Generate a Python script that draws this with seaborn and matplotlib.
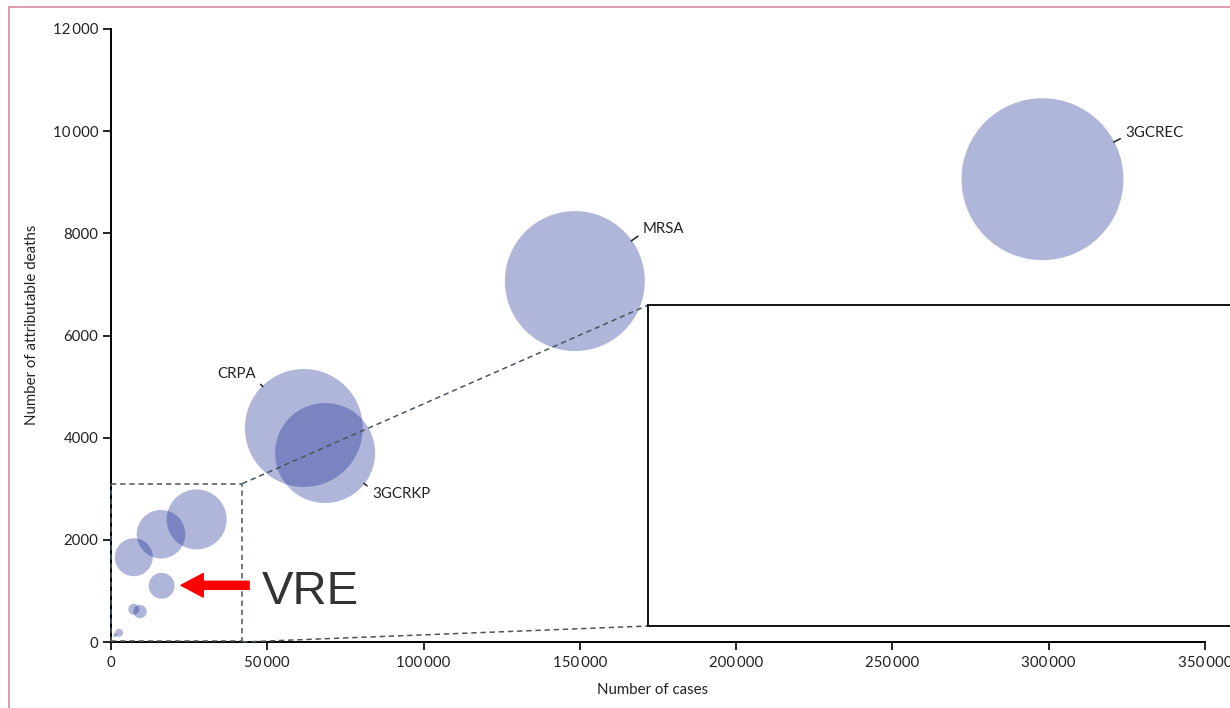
import numpy as np
import pandas as pd
import matplotlib
matplotlib.use("Agg")
import matplotlib.pyplot as plt
import seaborn as sns
from matplotlib.patches import Rectangle
from matplotlib.lines import Line2D
from matplotlib.ticker import FuncFormatter, MultipleLocator

# ---------------- data ----------------
pathogens = ["3GCREC", "MRSA", "CRPA", "3GCRKP", "Other A", "Other B", "Other C",
             "VRE", "Other D", "Other E", "Other F", "Other G"]
cases = [298000, 148400, 61700, 68500, 27400, 16000, 7300, 16200, 7300, 9300, 2600, 1300]
deaths = [9060, 7065, 4190, 3700, 2400, 2110, 1660, 1100, 640, 595, 180, 135]
dalys = [249000, 186000, 132000, 95000, 34200, 22400, 13700, 6400, 1150, 1700, 600, 150]
labelled = ["3GCREC", "MRSA", "CRPA", "3GCRKP"]
x_ticks = [0, 50000, 100000, 150000, 200000, 250000, 300000, 350000]
y_ticks = [0, 2000, 4000, 6000, 8000, 10000, 12000]
zoom_x = 42000
zoom_y = 3100

df = pd.DataFrame({"pathogen": pathogens, "cases": cases, "deaths": deaths, "dalys": dalys})

# ---------------- style ----------------
sns.set_theme(style="ticks")
plt.rcParams["font.family"] = ["Lato", "DejaVu Sans"]

SMAX = 13600.0
VMAX = max(dalys)
BUBBLE = (0 / 255, 22 / 255, 137 / 255)

fig = plt.figure(figsize=(12.3, 7.08), dpi=100)
ax = fig.add_axes([111 / 1230, 1 - 642 / 708, (1205 - 111) / 1230, (642 - 29) / 708])

sns.scatterplot(data=df, x="cases", y="deaths", size="dalys", sizes=(0, SMAX),
                size_norm=(0, VMAX), color=BUBBLE, alpha=0.31, linewidth=0,
                legend=False, ax=ax, zorder=2)

ax.set_xlim(0, 350000)
ax.set_ylim(0, 12000)
ax.set_xticks(x_ticks)
ax.set_yticks(y_ticks)


def fmt(v, pos=None):
    v = int(round(v))
    if v < 10000:
        return f"{v}"
    return f"{v:,}".replace(",", "\u2009")


ax.xaxis.set_major_formatter(FuncFormatter(fmt))
ax.yaxis.set_major_formatter(FuncFormatter(fmt))
ax.set_xlabel("")
ax.set_ylabel("")
for s in ["top", "right"]:
    ax.spines[s].set_visible(False)
for s in ["left", "bottom"]:
    ax.spines[s].set_linewidth(1.4)
    ax.spines[s].set_color("black")
ax.tick_params(axis="both", which="major", direction="out", length=6, width=1.2,
               color="black", labelsize=10.8, labelcolor="#222222", pad=3)
ax.tick_params(axis="x", pad=4)
ax.grid(False)

fig.text(653 / 1230, 1 - 690 / 708, "Number of cases", ha="center", va="center",
         fontsize=10.8, color="#222222")
fig.text(32 / 1230, 1 - 325 / 708, "Number of attributable deaths", ha="center",
         va="center", rotation=90, fontsize=10.8, color="#222222")

# ---------------- labels with leader lines ----------------
label_cfg = {
    "3GCREC": dict(off=(59.8, 33.1), ha="left", relpos=(0, 0.3)),
    "MRSA": dict(off=(49.0, 37.4), ha="left", relpos=(0, 0.25)),
    "CRPA": dict(off=(-34.6, 38.9), ha="right", relpos=(1, 0.1)),
    "3GCRKP": dict(off=(33.8, -29.5), ha="left", relpos=(0, 0.8)),
}
for name in labelled:
    row = df[df.pathogen == name].iloc[0]
    r_pt = np.sqrt(SMAX * row.dalys / VMAX) / 2
    c = label_cfg[name]
    ax.annotate(name, xy=(row.cases, row.deaths), xytext=c["off"],
                textcoords="offset points", ha=c["ha"], va="center",
                fontsize=10.8, color="#222222",
                arrowprops=dict(arrowstyle="-", color="#222222", lw=1.1,
                                shrinkA=1.5, shrinkB=r_pt - 0.5, relpos=c["relpos"]),
                zorder=5)

# ---------------- zoom box, connectors, inset frame ----------------
dash = dict(color="#4a5560", lw=1.1, linestyle=(0, (3.5, 2.5)), zorder=4)
ax.plot([0, zoom_x, zoom_x], [zoom_y, zoom_y, 0], clip_on=False, **dash)
ax.plot([0, 0], [0, zoom_y], clip_on=False, **dash)
ax.plot([0, zoom_x], [18, 18], clip_on=False, **dash)

inset_x0, inset_y0, inset_y1 = 171800, 313, 6595
ax.plot([zoom_x, inset_x0], [zoom_y, inset_y1], clip_on=False, **dash)
ax.plot([zoom_x, inset_x0], [0, inset_y0], clip_on=False, **dash)
ax.add_patch(Rectangle((inset_x0, inset_y0), 260000, inset_y1 - inset_y0,
                       facecolor="white", edgecolor="black", lw=1.3,
                       clip_on=False, zorder=6))

# ---------------- VRE callout ----------------
ax.annotate("", xy=(22400, 1110), xytext=(44200, 1110),
            arrowprops=dict(arrowstyle="simple,head_length=1.6,head_width=1.7,tail_width=0.58",
                            color="#ff0000", shrinkA=0, shrinkB=0, mutation_scale=10),
            zorder=7)
ax.text(48200, 744, "VRE", fontsize=34, color="#333333", ha="left", va="baseline",
        family=["Liberation Sans", "DejaVu Sans"], zorder=7)

# ---------------- page border ----------------
border = "#d98a9e"
fig.add_artist(Line2D([9 / 1230, 1.0], [1 - 7 / 708, 1 - 7 / 708], color=border, lw=1.2))
fig.add_artist(Line2D([9 / 1230, 9 / 1230], [0, 1 - 7 / 708], color=border, lw=1.2))

fig.savefig("out.png", dpi=100)
